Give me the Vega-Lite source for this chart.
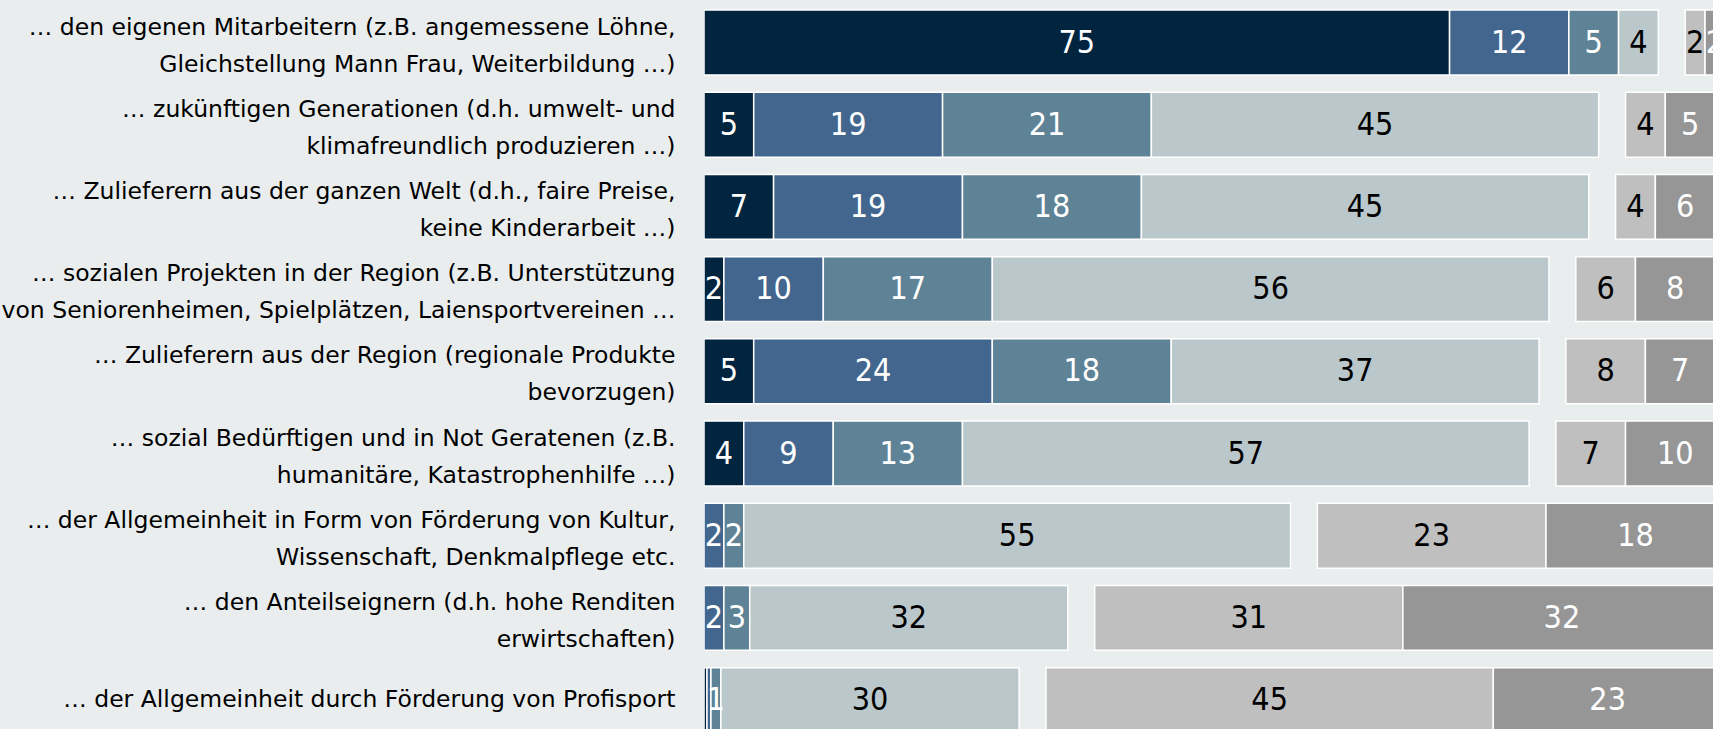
{
  "$schema": "https://vega.github.io/schema/vega-lite/v6.json",
  "width": 1009,
  "height": 729,
  "autosize": "none",
  "padding": {"left": 704, "top": 0, "right": 0, "bottom": 0},
  "background": "#e9edee",
  "config": {"view": {"stroke": null}},
  "data": {
    "values": [
      {"r": 1, "item": "… den eigenen Mitarbeitern (z.B. angemessene Löhne,|Gleichstellung Mann Frau, Weiterbildung …)", "k": 1, "value": 75},
      {"r": 1, "item": "… den eigenen Mitarbeitern (z.B. angemessene Löhne,|Gleichstellung Mann Frau, Weiterbildung …)", "k": 2, "value": 12},
      {"r": 1, "item": "… den eigenen Mitarbeitern (z.B. angemessene Löhne,|Gleichstellung Mann Frau, Weiterbildung …)", "k": 3, "value": 5},
      {"r": 1, "item": "… den eigenen Mitarbeitern (z.B. angemessene Löhne,|Gleichstellung Mann Frau, Weiterbildung …)", "k": 4, "value": 4},
      {"r": 1, "item": "… den eigenen Mitarbeitern (z.B. angemessene Löhne,|Gleichstellung Mann Frau, Weiterbildung …)", "k": 5, "value": 2},
      {"r": 1, "item": "… den eigenen Mitarbeitern (z.B. angemessene Löhne,|Gleichstellung Mann Frau, Weiterbildung …)", "k": 6, "value": 2},
      {"r": 2, "item": "… zukünftigen Generationen (d.h. umwelt- und|klimafreundlich produzieren …)", "k": 1, "value": 5},
      {"r": 2, "item": "… zukünftigen Generationen (d.h. umwelt- und|klimafreundlich produzieren …)", "k": 2, "value": 19},
      {"r": 2, "item": "… zukünftigen Generationen (d.h. umwelt- und|klimafreundlich produzieren …)", "k": 3, "value": 21},
      {"r": 2, "item": "… zukünftigen Generationen (d.h. umwelt- und|klimafreundlich produzieren …)", "k": 4, "value": 45},
      {"r": 2, "item": "… zukünftigen Generationen (d.h. umwelt- und|klimafreundlich produzieren …)", "k": 5, "value": 4},
      {"r": 2, "item": "… zukünftigen Generationen (d.h. umwelt- und|klimafreundlich produzieren …)", "k": 6, "value": 5},
      {"r": 3, "item": "… Zulieferern aus der ganzen Welt (d.h., faire Preise,|keine Kinderarbeit …)", "k": 1, "value": 7},
      {"r": 3, "item": "… Zulieferern aus der ganzen Welt (d.h., faire Preise,|keine Kinderarbeit …)", "k": 2, "value": 19},
      {"r": 3, "item": "… Zulieferern aus der ganzen Welt (d.h., faire Preise,|keine Kinderarbeit …)", "k": 3, "value": 18},
      {"r": 3, "item": "… Zulieferern aus der ganzen Welt (d.h., faire Preise,|keine Kinderarbeit …)", "k": 4, "value": 45},
      {"r": 3, "item": "… Zulieferern aus der ganzen Welt (d.h., faire Preise,|keine Kinderarbeit …)", "k": 5, "value": 4},
      {"r": 3, "item": "… Zulieferern aus der ganzen Welt (d.h., faire Preise,|keine Kinderarbeit …)", "k": 6, "value": 6},
      {"r": 4, "item": "… sozialen Projekten in der Region (z.B. Unterstützung|von Seniorenheimen, Spielplätzen, Laiensportvereinen …", "k": 1, "value": 2},
      {"r": 4, "item": "… sozialen Projekten in der Region (z.B. Unterstützung|von Seniorenheimen, Spielplätzen, Laiensportvereinen …", "k": 2, "value": 10},
      {"r": 4, "item": "… sozialen Projekten in der Region (z.B. Unterstützung|von Seniorenheimen, Spielplätzen, Laiensportvereinen …", "k": 3, "value": 17},
      {"r": 4, "item": "… sozialen Projekten in der Region (z.B. Unterstützung|von Seniorenheimen, Spielplätzen, Laiensportvereinen …", "k": 4, "value": 56},
      {"r": 4, "item": "… sozialen Projekten in der Region (z.B. Unterstützung|von Seniorenheimen, Spielplätzen, Laiensportvereinen …", "k": 5, "value": 6},
      {"r": 4, "item": "… sozialen Projekten in der Region (z.B. Unterstützung|von Seniorenheimen, Spielplätzen, Laiensportvereinen …", "k": 6, "value": 8},
      {"r": 5, "item": "… Zulieferern aus der Region (regionale Produkte|bevorzugen)", "k": 1, "value": 5},
      {"r": 5, "item": "… Zulieferern aus der Region (regionale Produkte|bevorzugen)", "k": 2, "value": 24},
      {"r": 5, "item": "… Zulieferern aus der Region (regionale Produkte|bevorzugen)", "k": 3, "value": 18},
      {"r": 5, "item": "… Zulieferern aus der Region (regionale Produkte|bevorzugen)", "k": 4, "value": 37},
      {"r": 5, "item": "… Zulieferern aus der Region (regionale Produkte|bevorzugen)", "k": 5, "value": 8},
      {"r": 5, "item": "… Zulieferern aus der Region (regionale Produkte|bevorzugen)", "k": 6, "value": 7},
      {"r": 6, "item": "… sozial Bedürftigen und in Not Geratenen (z.B.|humanitäre, Katastrophenhilfe …)", "k": 1, "value": 4},
      {"r": 6, "item": "… sozial Bedürftigen und in Not Geratenen (z.B.|humanitäre, Katastrophenhilfe …)", "k": 2, "value": 9},
      {"r": 6, "item": "… sozial Bedürftigen und in Not Geratenen (z.B.|humanitäre, Katastrophenhilfe …)", "k": 3, "value": 13},
      {"r": 6, "item": "… sozial Bedürftigen und in Not Geratenen (z.B.|humanitäre, Katastrophenhilfe …)", "k": 4, "value": 57},
      {"r": 6, "item": "… sozial Bedürftigen und in Not Geratenen (z.B.|humanitäre, Katastrophenhilfe …)", "k": 5, "value": 7},
      {"r": 6, "item": "… sozial Bedürftigen und in Not Geratenen (z.B.|humanitäre, Katastrophenhilfe …)", "k": 6, "value": 10},
      {"r": 7, "item": "… der Allgemeinheit in Form von Förderung von Kultur,|Wissenschaft, Denkmalpflege etc.", "k": 2, "value": 2},
      {"r": 7, "item": "… der Allgemeinheit in Form von Förderung von Kultur,|Wissenschaft, Denkmalpflege etc.", "k": 3, "value": 2},
      {"r": 7, "item": "… der Allgemeinheit in Form von Förderung von Kultur,|Wissenschaft, Denkmalpflege etc.", "k": 4, "value": 55},
      {"r": 7, "item": "… der Allgemeinheit in Form von Förderung von Kultur,|Wissenschaft, Denkmalpflege etc.", "k": 5, "value": 23},
      {"r": 7, "item": "… der Allgemeinheit in Form von Förderung von Kultur,|Wissenschaft, Denkmalpflege etc.", "k": 6, "value": 18},
      {"r": 8, "item": "… den Anteilseignern (d.h. hohe Renditen|erwirtschaften)", "k": 2, "value": 2},
      {"r": 8, "item": "… den Anteilseignern (d.h. hohe Renditen|erwirtschaften)", "k": 3, "value": 2.6},
      {"r": 8, "item": "… den Anteilseignern (d.h. hohe Renditen|erwirtschaften)", "k": 4, "value": 32},
      {"r": 8, "item": "… den Anteilseignern (d.h. hohe Renditen|erwirtschaften)", "k": 5, "value": 31},
      {"r": 8, "item": "… den Anteilseignern (d.h. hohe Renditen|erwirtschaften)", "k": 6, "value": 32},
      {"r": 9, "item": "… der Allgemeinheit durch Förderung von Profisport", "k": 1, "value": 0.3},
      {"r": 9, "item": "… der Allgemeinheit durch Förderung von Profisport", "k": 2, "value": 0.4},
      {"r": 9, "item": "… der Allgemeinheit durch Förderung von Profisport", "k": 3, "value": 1},
      {"r": 9, "item": "… der Allgemeinheit durch Förderung von Profisport", "k": 4, "value": 30},
      {"r": 9, "item": "… der Allgemeinheit durch Förderung von Profisport", "k": 5, "value": 45},
      {"r": 9, "item": "… der Allgemeinheit durch Förderung von Profisport", "k": 6, "value": 23}
    ]
  },
  "transform": [
    {"stack": "value", "groupby": ["item"], "sort": [{"field": "k", "order": "ascending"}], "as": ["s0", "s1"]},
    {"calculate": "datum.k >= 5 ? 2.7 : 0", "as": "gap"},
    {"calculate": "datum.s0 + datum.gap", "as": "x0"},
    {"calculate": "datum.s1 + datum.gap", "as": "x1"},
    {"calculate": "(datum.x0 + datum.x1) / 2", "as": "xm"}
  ],
  "encoding": {
    "y": {
      "field": "item",
      "type": "nominal",
      "sort": {"field": "r", "op": "min", "order": "ascending"},
      "scale": {"range": [1.4, 741.2], "paddingInner": 0.21, "paddingOuter": 0.105},
      "axis": {
        "title": null,
        "domain": false,
        "ticks": false,
        "tickSize": 0,
        "grid": false,
        "labelExpr": "split(datum.label, '|')",
        "labelFont": "DejaVu Sans",
        "labelFontSize": 23.5,
        "labelColor": "#000000",
        "labelPadding": 29,
        "labelLimit": 0,
        "labelLineHeight": 37,
        "labelAlign": "right",
        "labelBaseline": "middle",
        "labelOffset": {"condition": {"test": "indexof(datum.value, '|') >= 0", "value": -15}, "value": 0}
      }
    }
  },
  "layer": [
    {
      "mark": {"type": "bar", "stroke": "#ffffff", "strokeWidth": 1.5, "clip": true},
      "encoding": {
        "x": {"field": "x0", "type": "quantitative", "scale": {"domain": [0, 101.5], "nice": false, "zero": true}, "axis": null},
        "x2": {"field": "x1"},
        "color": {
          "field": "k",
          "type": "ordinal",
          "scale": {"domain": [1, 2, 3, 4, 5, 6], "range": ["#01243f", "#43668e", "#5f8396", "#bac8cc", "#bfbfbf", "#969696"]},
          "legend": null
        }
      }
    },
    {
      "transform": [{"filter": "datum.value >= 0.95"}],
      "mark": {"type": "text", "font": "DejaVu Sans Condensed, DejaVu Sans", "fontSize": 32, "baseline": "middle", "align": "center", "clip": true},
      "encoding": {
        "x": {"field": "xm", "type": "quantitative"},
        "text": {"field": "value", "type": "quantitative", "format": ".0f"},
        "color": {"condition": {"test": "datum.k == 4 || datum.k == 5", "value": "#000000"}, "value": "#ffffff"}
      }
    }
  ]
}
